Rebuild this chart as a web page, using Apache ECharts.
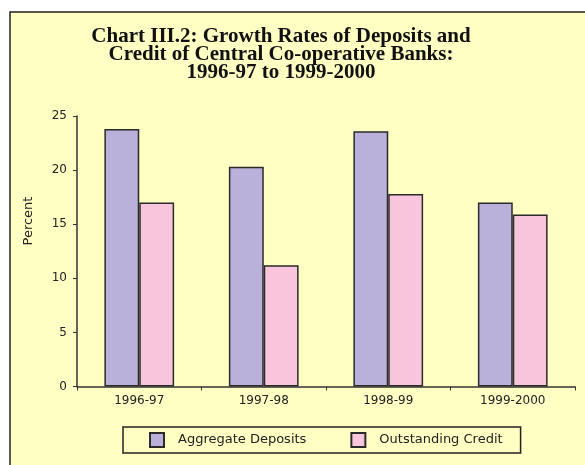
<!DOCTYPE html>
<html>
<head>
<meta charset="utf-8">
<script src="https://cdn.jsdelivr.net/npm/echarts@6/dist/echarts.min.js"></script>
<style>html,body{margin:0;padding:0;background:#fff;}#c{width:585px;height:465px;}</style>
</head>
<body>
<div id="c"></div>
<script>
const categories = ['1996-97', '1997-98', '1998-99', '1999-2000'];
const aggregateDeposits = [23.8, 20.3, 23.6, 17.0];
const outstandingCredit = [17.0, 11.2, 17.8, 15.9];
const seriesNames = ['Aggregate Deposits', 'Outstanding Credit'];
const titleText = 'Chart III.2: Growth Rates of Deposits and\nCredit of Central Co-operative Banks:\n1996-97 to 1999-2000';

const chart = echarts.init(document.getElementById('c'), null, {renderer: 'canvas'});
const barBorder = {borderColor: '#2a2a2a', borderWidth: 1.5};
chart.setOption({
  animation: false,
  backgroundColor: '#ffffff',
  graphic: [
    {type: 'rect', z: -10, shape: {x: 10, y: 12, width: 620, height: 500},
     style: {fill: '#FFFFC4', stroke: '#222', lineWidth: 1.5}},
    {type: 'text', x: 281, y: 28, z: 10,
     style: {text: titleText, align: 'center', verticalAlign: 'top',
             font: 'bold 21px "Liberation Serif"', lineHeight: 18, fill: '#111'}},
    {type: 'text', x: 29, y: 221, rotation: Math.PI / 2, z: 10,
     style: {text: 'Percent', align: 'center', verticalAlign: 'middle',
             font: '13px "DejaVu Sans"', fill: '#222'}}
  ],
  grid: {left: 77, right: 10, top: 116, bottom: 78.5},
  xAxis: {
    type: 'category', data: categories,
    axisLine: {lineStyle: {color: '#333', width: 1.5}},
    axisTick: {show: true, length: 4, lineStyle: {color: '#333'}},
    axisLabel: {color: '#222', fontSize: 12, fontFamily: 'DejaVu Sans', margin: 8}
  },
  yAxis: {
    type: 'value', min: 0, max: 25, interval: 5,
    axisLine: {show: true, lineStyle: {color: '#333', width: 1.5}},
    axisTick: {show: true, length: 4, lineStyle: {color: '#333'}},
    splitLine: {show: false},
    axisLabel: {color: '#222', fontSize: 12, fontFamily: 'DejaVu Sans', margin: 10}
  },
  legend: {
    data: seriesNames,
    left: 123, top: 427,
    orient: 'horizontal',
    backgroundColor: '#FFFFC4',
    borderColor: '#222', borderWidth: 1.5, borderRadius: 0,
    padding: [5, 18, 5, 26],
    itemWidth: 14, itemHeight: 14, itemGap: 44,
    icon: 'rect',
    textStyle: {color: '#222', fontSize: 13, fontFamily: 'DejaVu Sans', padding: [0, 0, 0, 9]}
  },
  series: [
    {name: seriesNames[0], type: 'bar', data: aggregateDeposits, barWidth: '28%', barGap: '0%',
     itemStyle: Object.assign({color: '#B9B1D9'}, barBorder)},
    {name: seriesNames[1], type: 'bar', data: outstandingCredit, barWidth: '28%', barGap: '0%',
     itemStyle: Object.assign({color: '#F9C5DD'}, barBorder)}
  ]
});
</script>
</body>
</html>
